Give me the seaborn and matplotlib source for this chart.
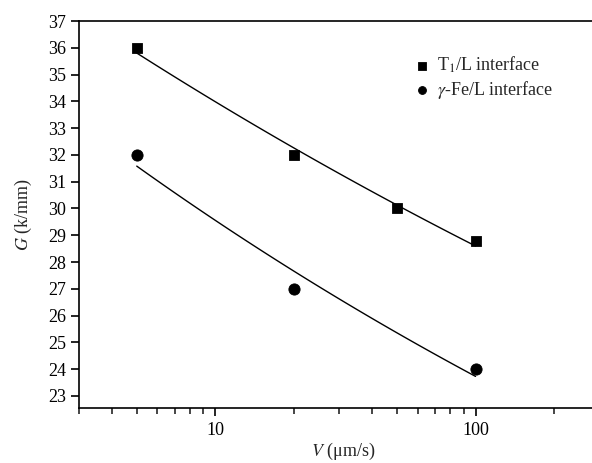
import numpy as np
import pandas as pd
import matplotlib
matplotlib.use("Agg")
import matplotlib.pyplot as plt
import seaborn as sns
from matplotlib.ticker import LogLocator, FixedLocator, NullFormatter

v_t1 = [5, 20, 50, 100]
g_t1 = [36.0, 32.0, 30.0, 28.8]
v_gfe = [5, 20, 100]
g_gfe = [32.0, 27.0, 24.0]

sns.set_style("ticks")
plt.rcParams['font.family'] = ['Liberation Serif', 'DejaVu Serif']
plt.rcParams['mathtext.fontset'] = 'stix'

fig = plt.figure(figsize=(5.92, 4.63), dpi=100)
ax = fig.add_axes([0.1334, 0.1188, 0.8666, 0.8358])

def power_fit(v, g):
    b, a = np.polyfit(np.log10(v), np.log10(g), 1)
    vv = np.logspace(np.log10(min(v)), np.log10(max(v)), 100)
    return vv, 10 ** a * vv ** b

df1 = pd.DataFrame({'V': v_t1, 'G': g_t1})
df2 = pd.DataFrame({'V': v_gfe, 'G': g_gfe})

sns.scatterplot(data=df1, x='V', y='G', marker='s', s=55, color='black',
                edgecolor='black', ax=ax, label=r'T$_1$/L interface', zorder=3)
sns.scatterplot(data=df2, x='V', y='G', marker='o', s=65, color='black',
                edgecolor='black', ax=ax, label=r'$\gamma$-Fe/L interface', zorder=3)

for v, g in [(v_t1, g_t1), (v_gfe, g_gfe)]:
    vv, gg = power_fit(v, g)
    sns.lineplot(x=vv, y=gg, color='black', lw=1.0, ax=ax, legend=False)

ax.set_xscale('log')
ax.set_xlim(3.0, 280)
ax.set_ylim(22.55, 37)
ax.set_yticks(range(23, 38))
ax.xaxis.set_major_locator(FixedLocator([10, 100]))
ax.set_xticklabels(['10', '100'])
ax.xaxis.set_minor_locator(LogLocator(base=10, subs=np.arange(2, 10), numticks=20))
ax.xaxis.set_minor_formatter(NullFormatter())

for s in ['left', 'bottom', 'top']:
    ax.spines[s].set_linewidth(1.2)
    ax.spines[s].set_color('black')
ax.spines['right'].set_visible(False)

ax.tick_params(axis='both', which='major', direction='out', length=6, width=1.2,
               labelsize=13, colors='black')
ax.tick_params(axis='x', which='minor', direction='out', length=4, width=1.2)
ax.tick_params(axis='x', pad=4)

ax.set_xlabel(r'$V$ (μm/s)', fontsize=13, labelpad=0)
ax.xaxis.set_label_coords(0.515, -0.085)
ax.set_ylabel(r'$G$ (k/mm)', fontsize=13, labelpad=10)

leg = ax.legend(loc='upper left', bbox_to_anchor=(0.62, 0.955), frameon=False,
                fontsize=13, handletextpad=0.3, labelspacing=0.2,
                handlelength=1.0, markerscale=0.7)

fig.savefig('out.png', dpi=100)
